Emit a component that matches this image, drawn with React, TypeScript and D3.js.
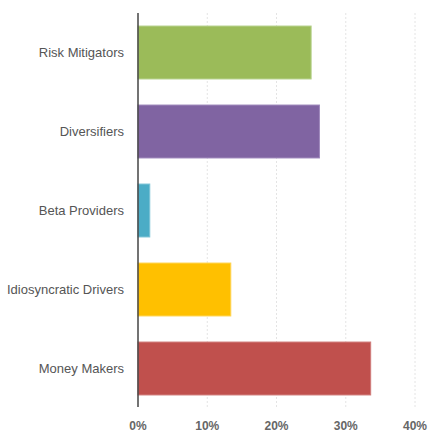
import React from "react";
import * as d3 from "d3";

const categories = ["Risk Mitigators", "Diversifiers", "Beta Providers", "Idiosyncratic Drivers", "Money Makers"];
const values = [25.0, 26.2, 1.7, 13.4, 33.6];
const colors = ["#9BBB59", "#8064A2", "#4BACC6", "#FFC000", "#C0504D"];
const strokes = ["#B5D08A", "#9E88BC", "#7CC3D6", "#FFD451", "#D07C7A"];
const ticks = [0, 10, 20, 30, 40];

export default function App() {
  const W = 428, H = 432;
  const x = d3.scaleLinear().domain([0, 40]).range([138, 415]);
  const y = d3.scaleBand().domain(categories).range([13, 408]).paddingInner(0.33).paddingOuter(0.165);
  return (
    <svg width={W} height={H} style={{ position: "absolute", left: 0, top: 0 }} fontFamily="Liberation Sans, Arial, sans-serif">
      {ticks.slice(1).map((t) => (
        <line key={t} x1={x(t)} x2={x(t)} y1={13} y2={407} stroke="#e4e4e4" strokeDasharray="2,2" strokeWidth={1} />
      ))}
      {categories.map((c, i) => (
        <rect key={c} x={x(0)} y={y(c)!} width={x(values[i]) - x(0)} height={y.bandwidth()} fill={colors[i]} stroke={strokes[i]} strokeWidth={1} />
      ))}
      <line x1={x(0)} x2={x(0)} y1={13} y2={407} stroke="#444" strokeWidth={1.5} />
      {categories.map((c) => (
        <text key={c} x={124} y={y(c)! + y.bandwidth() / 2} dy="0.35em" textAnchor="end" fontSize={13} fill="#555">{c}</text>
      ))}
      {ticks.map((t) => (
        <text key={t} x={x(t)} y={430} textAnchor="middle" fontSize={12} fontWeight="bold" fill="#666">{t}%</text>
      ))}
    </svg>
  );
}
